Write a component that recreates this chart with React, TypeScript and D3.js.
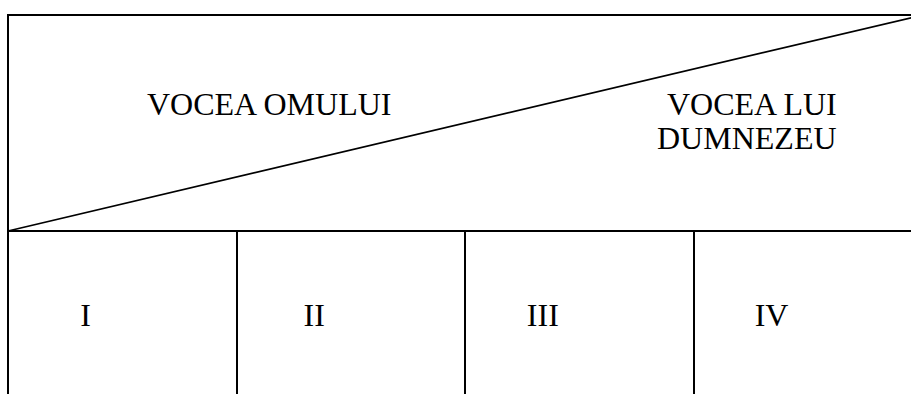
import React from "react";
import * as d3 from "d3";

const W = 911;
const H = 394;

const columns = ["I", "II", "III", "IV"];
const headerLeft = ["VOCEA OMULUI"];
const headerRight = ["VOCEA LUI", "DUMNEZEU"];

const FONT = "'Liberation Serif', 'Times New Roman', serif";

export default function App() {
  const left = 8;
  const colW = 228.67;
  const xs = d3.scaleLinear().domain([0, columns.length]).range([left, left + colW * columns.length]);
  const x = (v: number) => Math.round(xs(v));
  const yTop = 15;
  const yMid = 231;

  const diag = d3.line<[number, number]>()([
    [xs(0), yMid],
    [xs(columns.length), yTop],
  ]);

  return (
    <svg
      width={W}
      height={H}
      style={{ position: "fixed", left: 0, top: 0, background: "#fff" }}
      fontFamily={FONT}
    >
      <rect x={0} y={0} width={W} height={H} fill="#fff" />
      <line x1={x(0) - 1} x2={xs(columns.length)} y1={yTop} y2={yTop} stroke="#000" strokeWidth={2} />
      <line x1={x(0)} x2={x(0)} y1={yTop - 1} y2={H} stroke="#000" strokeWidth={2} />
      <line x1={x(0)} x2={xs(columns.length)} y1={yMid} y2={yMid} stroke="#000" strokeWidth={2} />
      <path d={diag || ""} stroke="#000" strokeWidth={1.7} fill="none" />
      {columns.slice(1).map((c, i) => (
        <line key={c} x1={x(i + 1)} x2={x(i + 1)} y1={yMid} y2={H} stroke="#000" strokeWidth={2} />
      ))}
      {headerLeft.map((t, i) => (
        <text key={t} x={147} y={115 + i * 33.5} fontSize={32} fill="#000">
          {t}
        </text>
      ))}
      {headerRight.map((t, i) => (
        <text key={t} x={i === 0 ? 667 : 657} y={115 + i * 33.5} fontSize={32} fill="#000">
          {t}
        </text>
      ))}
      {columns.map((c, i) => (
        <text key={c} x={xs(i) + 77.5} y={326} fontSize={32} textAnchor="middle" fill="#000">
          {c}
        </text>
      ))}
    </svg>
  );
}
